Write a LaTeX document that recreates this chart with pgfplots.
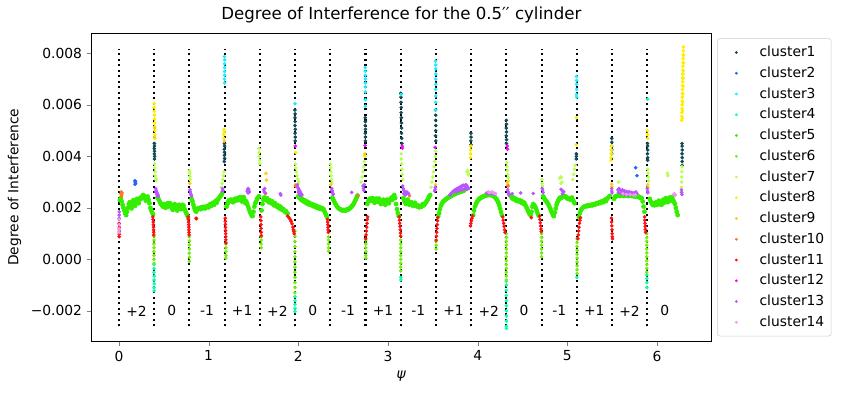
\documentclass[border=0pt]{standalone}
\usepackage{pgfplots}
\pgfplotsset{compat=1.18}
\usepackage{fontspec}
\setmainfont{DejaVu Sans}

\definecolor{c1}{HTML}{134B55}
\definecolor{c2}{HTML}{1F66FF}
\definecolor{c3}{HTML}{22EEFF}
\definecolor{c4}{HTML}{11FFAA}
\definecolor{c5}{HTML}{33EE00}
\definecolor{c6}{HTML}{77EE11}
\definecolor{c7}{HTML}{BBFF55}
\definecolor{c8}{HTML}{FFEE00}
\definecolor{c9}{HTML}{FFCC11}
\definecolor{c10}{HTML}{FF7722}
\definecolor{c11}{HTML}{FF1111}
\definecolor{c12}{HTML}{EE11EE}
\definecolor{c13}{HTML}{BB55FF}
\definecolor{c14}{HTML}{EE99EE}

\begin{document}
\begin{tikzpicture}
\path[use as bounding box] (-0.917in,-0.54in) rectangle (7.503in,3.410in);
\begin{axis}[
    scale only axis,
    width=6.193in, height=3.077in,
    xmin=-0.304, xmax=6.602,
    ymin=-0.00317, ymax=0.00878,
    xtick={0,1,2,3,4,5,6},
    xticklabels={0,1,2,3,4,5,6},
    ytick={-0.002,0,0.002,0.004,0.006,0.008},
    yticklabels={−0.002,0.000,0.002,0.004,0.006,0.008},
    scaled y ticks=false,
    tick align=outside,
    xtick pos=bottom, ytick pos=left,
    major tick length=3.5pt,
    tick label style={font=\fontsize{10}{12}\selectfont},
    label style={font=\fontsize{10}{12}\selectfont},
    title={Degree of Interference for the 0.5′′ cylinder},
    title style={font=\fontsize{12}{14}\selectfont, yshift=-2pt},
    xlabel={\textit{ψ}},
    ylabel={Degree of Interference},
    legend style={at={(1,1)}, anchor=north west, xshift=0.06in, yshift=-0.05in,
        draw=black!20, rounded corners=2pt, font=\fontsize{10}{12}\selectfont,
        row sep=1.9pt, inner ysep=3.5pt},
    legend cell align=left,
    legend image code/.code={%
        \path[draw=none, fill=none] (0cm,-0.1cm) rectangle (0.9cm,0.1cm);
        \draw[#1, mark size=0.8pt] plot coordinates {(0.38cm,0cm)};},
]
\addplot[only marks, mark=*, mark size=1.1pt, c1] coordinates {
(0.395,0.00450)(0.396,0.00440)(0.394,0.00430)(0.397,0.00420)(0.395,0.00410)(0.398,0.00400)(0.396,0.00390)
(1.176,0.00450)(1.178,0.00440)(1.175,0.00428)(1.177,0.00416)(1.176,0.00404)(1.178,0.00392)(1.175,0.00380)
(1.962,0.00580)(1.964,0.00565)(1.963,0.00550)(1.965,0.00535)(1.963,0.00520)(1.966,0.00505)(1.964,0.00490)(1.966,0.00475)(1.965,0.00460)
(2.746,0.00550)(2.748,0.00535)(2.747,0.00520)(2.749,0.00505)(2.747,0.00490)(2.749,0.00475)(2.748,0.00460)
(3.143,0.00645)(3.145,0.00630)(3.146,0.00610)(3.148,0.00590)(3.147,0.00570)(3.149,0.00550)(3.150,0.00530)(3.152,0.00510)(3.151,0.00490)(3.153,0.00470)(3.155,0.00450)
(3.530,0.00580)(3.532,0.00560)(3.531,0.00540)(3.533,0.00520)(3.532,0.00500)(3.531,0.00480)(3.533,0.00460)
(3.925,0.00490)(3.926,0.00475)(3.924,0.00460)(3.926,0.00445)
(4.320,0.00540)(4.321,0.00525)(4.319,0.00510)(4.322,0.00495)(4.320,0.00480)(4.322,0.00465)(4.321,0.00450)
(5.100,0.00410)(5.101,0.00400)(5.099,0.00390)
(5.495,0.00470)(5.496,0.00455)(5.494,0.00440)(5.496,0.00425)(5.495,0.00410)
(5.894,0.00450)(5.895,0.00440)(5.896,0.00425)(5.894,0.00410)(5.896,0.00395)(5.895,0.00385)
(6.279,0.00450)(6.280,0.00440)(6.281,0.00425)(6.279,0.00410)(6.281,0.00395)(6.280,0.00380)(6.281,0.00365)
};
\addlegendentry{cluster1}
\addplot[only marks, mark=*, mark size=1.1pt, c2] coordinates {
(0.178,0.00305)(0.182,0.00300)(0.186,0.00295)(0.180,0.00292)(0.184,0.00303)
(5.762,0.00356)(5.777,0.00325)
};
\addlegendentry{cluster2}
\addplot[only marks, mark=*, mark size=1.1pt, c3] coordinates {
(1.176,0.00787)(1.178,0.00775)(1.177,0.00760)(1.179,0.00745)(1.177,0.00730)(1.178,0.00715)(1.176,0.00700)(1.178,0.00685)
(1.963,0.00605)
(2.746,0.00745)(2.748,0.00730)(2.747,0.00715)(2.749,0.00700)(2.747,0.00685)(2.748,0.00670)(2.746,0.00650)(2.748,0.00620)(2.747,0.00595)
(3.531,0.00770)(3.533,0.00755)(3.532,0.00740)(3.534,0.00720)(3.532,0.00700)(3.533,0.00680)(3.531,0.00660)(3.533,0.00635)(3.532,0.00610)(3.533,0.00580)
(5.101,0.00710)(5.103,0.00695)(5.102,0.00680)(5.104,0.00660)(5.102,0.00640)(5.103,0.00630)
(3.144,0.00640)
};
\addlegendentry{cluster3}
\addplot[only marks, mark=*, mark size=1.1pt, c4] coordinates {
(0.391,-0.00020)(0.392,-0.00035)(0.391,-0.00050)(0.393,-0.00065)(0.392,-0.00080)(0.393,-0.00095)(0.392,-0.00110)(0.393,-0.00122)
(1.963,-0.00145)(1.964,-0.00160)(1.963,-0.00175)(1.964,-0.00190)(1.963,-0.00203)
(3.142,-0.00070)(3.143,-0.00080)
(4.319,-0.00085)(4.320,-0.00100)(4.319,-0.00120)(4.320,-0.00140)(4.321,-0.00160)(4.320,-0.00180)(4.321,-0.00200)(4.320,-0.00220)(4.321,-0.00240)(4.320,-0.00260)(4.321,-0.00268)
(5.106,-0.00070)
(5.886,-0.00060)(5.887,-0.00075)(5.886,-0.00090)(5.887,-0.00110)
(5.895,0.00622)
};
\addlegendentry{cluster4}
\addplot[only marks, mark=*, mark size=1.5pt, c5] coordinates {
(0.01,0.00230)(0.02,0.00238)(0.03,0.00225)(0.04,0.00212)(0.05,0.00200)(0.06,0.00190)(0.07,0.00178)(0.08,0.00172)(0.09,0.00185)(0.10,0.00200)
(0.11,0.00215)(0.12,0.00222)(0.13,0.00205)(0.14,0.00198)(0.15,0.00220)(0.16,0.00230)(0.17,0.00215)(0.18,0.00208)(0.19,0.00225)(0.20,0.00235)
(0.21,0.00228)(0.22,0.00218)(0.23,0.00232)(0.24,0.00240)(0.25,0.00236)(0.26,0.00245)(0.27,0.00250)(0.28,0.00246)(0.29,0.00238)(0.30,0.00228)
(0.31,0.00238)(0.32,0.00244)(0.33,0.00232)(0.34,0.00218)(0.35,0.00200)(0.36,0.00190)(0.37,0.00182)(0.38,0.00175)
(0.43,0.00240)(0.44,0.00235)(0.45,0.00228)(0.46,0.00220)(0.47,0.00215)(0.48,0.00210)(0.49,0.00205)(0.50,0.00215)(0.51,0.00208)(0.52,0.00200)
(0.53,0.00212)(0.54,0.00218)(0.55,0.00205)(0.56,0.00210)(0.57,0.00218)(0.58,0.00212)(0.59,0.00200)(0.60,0.00192)(0.61,0.00205)(0.62,0.00215)
(0.63,0.00210)(0.64,0.00198)(0.65,0.00190)(0.66,0.00205)(0.67,0.00212)(0.68,0.00200)(0.69,0.00195)(0.70,0.00205)(0.71,0.00212)(0.72,0.00208)
(0.73,0.00196)(0.74,0.00188)(0.75,0.00180)(0.76,0.00172)(0.77,0.00165)
(0.81,0.00235)(0.82,0.00225)(0.83,0.00212)(0.84,0.00200)(0.85,0.00190)(0.86,0.00185)(0.87,0.00192)(0.88,0.00198)(0.89,0.00196)(0.90,0.00200)
(0.91,0.00195)(0.92,0.00202)(0.93,0.00198)(0.94,0.00204)(0.95,0.00200)(0.96,0.00198)(0.97,0.00205)(0.98,0.00203)(0.99,0.00208)(1.00,0.00202)
(1.01,0.00210)(1.02,0.00215)(1.03,0.00208)(1.04,0.00214)(1.05,0.00220)(1.06,0.00212)(1.07,0.00222)(1.08,0.00228)(1.09,0.00220)(1.10,0.00230)
(1.11,0.00236)(1.12,0.00240)(1.13,0.00245)(1.14,0.00250)(1.15,0.00255)
(1.20,0.00205)(1.21,0.00215)(1.22,0.00225)(1.23,0.00230)(1.24,0.00226)(1.25,0.00232)(1.26,0.00228)(1.27,0.00222)(1.28,0.00230)(1.29,0.00235)
(1.30,0.00228)(1.31,0.00232)(1.32,0.00238)(1.33,0.00230)(1.34,0.00236)(1.35,0.00242)(1.36,0.00232)(1.37,0.00225)(1.38,0.00238)(1.39,0.00242)
(1.40,0.00230)(1.41,0.00218)(1.42,0.00225)(1.43,0.00215)(1.44,0.00205)(1.45,0.00195)(1.46,0.00185)(1.47,0.00178)(1.48,0.00170)(1.49,0.00168)
(1.50,0.00185)(1.51,0.00205)(1.52,0.00218)(1.53,0.00225)(1.54,0.00235)(1.55,0.00240)(1.56,0.00245)
(1.59,0.00190)(1.60,0.00215)(1.61,0.00232)(1.62,0.00240)(1.63,0.00236)(1.64,0.00230)(1.65,0.00238)(1.66,0.00228)(1.67,0.00222)(1.68,0.00230)
(1.69,0.00226)(1.70,0.00218)(1.71,0.00225)(1.72,0.00215)(1.73,0.00210)(1.74,0.00218)(1.75,0.00212)(1.76,0.00205)(1.77,0.00210)(1.78,0.00202)
(1.79,0.00198)(1.80,0.00205)(1.81,0.00198)(1.82,0.00192)(1.83,0.00196)(1.84,0.00190)(1.85,0.00185)(1.86,0.00188)(1.87,0.00180)(1.88,0.00178)
(2.00,0.00245)(2.01,0.00240)(2.02,0.00238)(2.03,0.00232)(2.04,0.00236)(2.05,0.00228)(2.06,0.00225)(2.07,0.00230)(2.08,0.00222)(2.09,0.00218)
(2.10,0.00224)(2.11,0.00215)(2.12,0.00220)(2.13,0.00212)(2.14,0.00216)(2.15,0.00210)(2.16,0.00214)(2.17,0.00206)(2.18,0.00210)(2.19,0.00204)
(2.20,0.00208)(2.21,0.00200)(2.22,0.00205)(2.23,0.00198)(2.24,0.00202)(2.25,0.00196)(2.26,0.00200)(2.27,0.00194)(2.28,0.00196)(2.29,0.00188)
(2.30,0.00180)(2.31,0.00172)(2.32,0.00165)
(2.38,0.00240)(2.39,0.00232)(2.40,0.00225)(2.41,0.00218)(2.42,0.00212)(2.43,0.00206)(2.44,0.00202)(2.45,0.00198)(2.46,0.00196)(2.47,0.00194)
(2.48,0.00192)(2.49,0.00190)(2.50,0.00192)(2.51,0.00190)(2.52,0.00192)(2.53,0.00190)(2.54,0.00193)(2.55,0.00195)(2.56,0.00194)(2.57,0.00197)
(2.58,0.00200)(2.59,0.00203)(2.60,0.00208)(2.61,0.00212)(2.62,0.00218)(2.63,0.00225)(2.64,0.00232)(2.65,0.00240)(2.66,0.00248)
(2.77,0.00215)(2.78,0.00225)(2.79,0.00232)(2.80,0.00236)(2.81,0.00228)(2.82,0.00232)(2.83,0.00238)(2.84,0.00226)(2.85,0.00220)(2.86,0.00232)
(2.87,0.00236)(2.88,0.00224)(2.89,0.00230)(2.90,0.00236)(2.91,0.00222)(2.92,0.00215)(2.93,0.00228)(2.94,0.00220)(2.95,0.00232)(2.96,0.00226)
(2.97,0.00212)(2.98,0.00222)(2.99,0.00232)(3.00,0.00226)(3.01,0.00218)(3.02,0.00228)(3.03,0.00236)(3.04,0.00240)(3.05,0.00232)(3.06,0.00245)
(3.07,0.00250)(3.08,0.00238)(3.09,0.00215)(3.10,0.00195)(3.11,0.00180)(3.12,0.00168)
(3.17,0.00238)(3.18,0.00230)(3.19,0.00222)(3.20,0.00215)(3.21,0.00225)(3.22,0.00232)(3.23,0.00222)(3.24,0.00212)(3.25,0.00218)(3.26,0.00222)
(3.27,0.00215)(3.28,0.00208)(3.29,0.00214)(3.30,0.00220)(3.31,0.00212)(3.32,0.00206)(3.33,0.00210)(3.34,0.00205)(3.35,0.00202)(3.36,0.00208)
(3.37,0.00204)(3.38,0.00210)(3.39,0.00215)(3.40,0.00210)(3.41,0.00215)(3.42,0.00220)(3.43,0.00225)(3.44,0.00230)(3.45,0.00238)(3.46,0.00245)
(3.47,0.00250)
(3.56,0.00168)(3.57,0.00180)(3.58,0.00195)(3.59,0.00208)(3.60,0.00216)(3.61,0.00222)(3.62,0.00226)(3.63,0.00229)(3.64,0.00232)(3.65,0.00235)
(3.66,0.00237)(3.67,0.00240)(3.68,0.00242)(3.69,0.00243)(3.70,0.00246)(3.71,0.00248)(3.72,0.00250)(3.73,0.00251)(3.74,0.00253)(3.75,0.00255)
(3.76,0.00256)(3.77,0.00258)(3.78,0.00259)(3.79,0.00260)(3.80,0.00262)(3.81,0.00263)(3.82,0.00264)(3.83,0.00265)(3.84,0.00266)(3.85,0.00268)
(3.95,0.00172)(3.96,0.00190)(3.97,0.00205)(3.98,0.00215)(3.99,0.00222)(4.00,0.00228)(4.01,0.00232)(4.02,0.00236)(4.03,0.00238)(4.04,0.00240)
(4.05,0.00242)(4.06,0.00244)(4.07,0.00245)(4.08,0.00247)(4.09,0.00248)(4.10,0.00249)(4.11,0.00250)(4.12,0.00250)(4.13,0.00251)(4.14,0.00250)
(4.15,0.00250)(4.16,0.00249)(4.17,0.00247)(4.18,0.00245)(4.19,0.00242)(4.20,0.00238)(4.21,0.00234)(4.22,0.00228)(4.23,0.00220)(4.24,0.00210)
(4.25,0.00198)(4.26,0.00185)(4.27,0.00172)
(4.36,0.00250)(4.37,0.00245)(4.38,0.00240)(4.39,0.00236)(4.40,0.00240)(4.41,0.00232)(4.42,0.00236)(4.43,0.00228)(4.44,0.00232)(4.45,0.00226)
(4.46,0.00230)(4.47,0.00224)(4.48,0.00228)(4.49,0.00220)(4.50,0.00224)(4.51,0.00216)(4.52,0.00220)(4.53,0.00212)(4.54,0.00205)(4.55,0.00198)
(4.56,0.00190)(4.57,0.00182)(4.58,0.00175)(4.59,0.00172)(4.60,0.00185)(4.61,0.00205)(4.62,0.00215)(4.63,0.00210)(4.64,0.00205)(4.65,0.00198)
(4.66,0.00188)(4.67,0.00178)(4.68,0.00170)
(4.73,0.00245)(4.74,0.00238)(4.75,0.00232)(4.76,0.00228)(4.77,0.00224)(4.78,0.00218)(4.79,0.00212)(4.80,0.00205)(4.81,0.00196)(4.82,0.00188)
(4.83,0.00180)(4.84,0.00172)(4.85,0.00168)(4.86,0.00182)(4.87,0.00198)(4.88,0.00212)(4.89,0.00222)(4.90,0.00230)(4.91,0.00236)(4.92,0.00240)
(4.93,0.00238)(4.94,0.00242)(4.95,0.00245)(4.96,0.00243)(4.97,0.00246)(4.98,0.00244)(4.99,0.00240)(5.00,0.00236)(5.01,0.00238)(5.02,0.00235)
(5.03,0.00232)(5.04,0.00236)(5.05,0.00240)(5.06,0.00232)(5.07,0.00225)(5.08,0.00218)
(5.13,0.00165)(5.14,0.00180)(5.15,0.00190)(5.16,0.00196)(5.17,0.00200)(5.18,0.00203)(5.19,0.00205)(5.20,0.00207)(5.21,0.00208)(5.22,0.00206)
(5.23,0.00209)(5.24,0.00210)(5.25,0.00208)(5.26,0.00211)(5.27,0.00212)(5.28,0.00210)(5.29,0.00213)(5.30,0.00215)(5.31,0.00213)(5.32,0.00216)
(5.33,0.00218)(5.34,0.00216)(5.35,0.00220)(5.36,0.00222)(5.37,0.00219)(5.38,0.00224)(5.39,0.00226)(5.40,0.00222)(5.41,0.00228)(5.42,0.00232)
(5.43,0.00226)(5.44,0.00234)(5.45,0.00238)(5.46,0.00242)(5.47,0.00246)
(5.52,0.00235)(5.53,0.00242)(5.54,0.00245)(5.55,0.00246)(5.56,0.00247)(5.57,0.00248)(5.58,0.00246)(5.59,0.00249)(5.60,0.00247)(5.61,0.00250)
(5.62,0.00248)(5.63,0.00246)(5.64,0.00249)(5.65,0.00247)(5.66,0.00250)(5.67,0.00248)(5.68,0.00246)(5.69,0.00249)(5.70,0.00247)(5.71,0.00248)
(5.72,0.00246)(5.73,0.00248)(5.74,0.00245)(5.75,0.00247)(5.76,0.00244)(5.77,0.00246)(5.78,0.00243)(5.79,0.00245)(5.80,0.00242)(5.81,0.00240)
(5.82,0.00238)(5.83,0.00238)(5.84,0.00225)(5.85,0.00205)(5.86,0.00185)
(5.92,0.00235)(5.93,0.00225)(5.94,0.00218)(5.95,0.00212)(5.96,0.00218)(5.97,0.00210)(5.98,0.00215)(5.99,0.00222)(6.00,0.00212)(6.01,0.00218)
(6.02,0.00228)(6.03,0.00215)(6.04,0.00222)(6.05,0.00212)(6.06,0.00225)(6.07,0.00232)(6.08,0.00220)(6.09,0.00228)(6.10,0.00238)(6.11,0.00230)
(6.12,0.00222)(6.13,0.00232)(6.14,0.00240)(6.15,0.00228)(6.16,0.00235)(6.17,0.00242)(6.18,0.00230)(6.19,0.00222)(6.20,0.00215)(6.21,0.00200)
(6.22,0.00185)(6.23,0.00172)
};
\addlegendentry{cluster5}
\addplot[only marks, mark=*, mark size=1.1pt, c6] coordinates {
(0.390,0.00090)(0.391,0.00075)(0.390,0.00060)(0.391,0.00045)(0.390,0.00030)(0.391,0.00015)(0.390,0.00000)(0.391,-0.00015)
(0.785,0.00088)(0.786,0.00072)(0.785,0.00056)(0.786,0.00040)(0.785,0.00024)(0.786,0.00008)(0.785,-0.00008)
(1.192,0.00060)(1.193,0.00045)(1.192,0.00030)(1.193,0.00015)(1.192,0.00005)
(1.586,0.00088)(1.587,0.00075)(1.586,0.00060)(1.587,0.00045)
(1.962,0.00110)(1.963,0.00090)(1.962,0.00070)(1.963,0.00050)(1.962,0.00030)(1.963,0.00010)(1.962,-0.00010)(1.963,-0.00030)(1.962,-0.00050)(1.963,-0.00070)(1.962,-0.00090)(1.963,-0.00110)(1.962,-0.00130)
(2.336,0.00088)(2.337,0.00075)(2.336,0.00060)(2.337,0.00045)(2.336,0.00032)
(2.752,0.00075)(2.753,0.00060)(2.752,0.00045)(2.753,0.00030)(2.752,0.00015)(2.753,0.00005)
(3.141,0.00075)(3.142,0.00060)(3.141,0.00045)(3.142,0.00030)(3.141,0.00015)(3.142,0.00000)(3.141,-0.00015)(3.142,-0.00030)(3.141,-0.00045)
(3.537,0.00070)(3.538,0.00055)(3.537,0.00040)
(4.319,0.00100)(4.320,0.00085)(4.319,0.00070)(4.320,0.00055)(4.319,0.00040)(4.320,0.00025)(4.319,0.00010)(4.320,-0.00005)(4.319,-0.00020)(4.320,-0.00035)(4.319,-0.00050)(4.320,-0.00065)(4.319,-0.00080)
(4.712,0.00100)(4.713,0.00085)(4.712,0.00070)(4.713,0.00055)(4.712,0.00040)(4.713,0.00025)(4.712,0.00010)
(5.108,0.00080)(5.109,0.00065)(5.108,0.00050)(5.109,0.00035)(5.108,0.00020)(5.109,0.00005)(5.108,-0.00010)(5.109,-0.00025)(5.108,-0.00040)(5.109,-0.00055)
(5.885,0.00100)(5.886,0.00085)(5.885,0.00070)(5.886,0.00055)(5.885,0.00040)(5.886,0.00025)(5.885,0.00010)(5.886,-0.00005)(5.885,-0.00020)(5.886,-0.00035)(5.885,-0.00050)
};
\addlegendentry{cluster6}
\addplot[only marks, mark=*, mark size=1.1pt, c7] coordinates {
(0.398,0.00370)(0.400,0.00355)(0.402,0.00340)(0.405,0.00325)(0.410,0.00315)(0.415,0.00308)
(0.787,0.00345)(0.789,0.00335)(0.791,0.00322)(0.793,0.00310)
(1.140,0.00280)(1.150,0.00295)(1.158,0.00310)(1.165,0.00325)(1.170,0.00340)
(1.562,0.00430)(1.564,0.00415)(1.566,0.00400)(1.568,0.00385)(1.570,0.00372)
(1.968,0.00370)(1.972,0.00355)(1.978,0.00340)(1.985,0.00325)(1.995,0.00312)(2.005,0.00300)
(2.358,0.00370)(2.360,0.00355)(2.363,0.00340)(2.366,0.00325)(2.370,0.00310)(2.375,0.00298)
(2.700,0.00300)(2.712,0.00320)(2.722,0.00340)(2.730,0.00360)(2.736,0.00380)(2.742,0.00400)
(3.148,0.00410)(3.150,0.00390)(3.153,0.00370)(3.157,0.00350)(3.160,0.00330)(3.165,0.00310)
(3.480,0.00280)(3.490,0.00300)(3.500,0.00320)(3.508,0.00340)(3.515,0.00360)(3.522,0.00380)(3.528,0.00400)(3.531,0.00420)
(3.880,0.00340)(3.890,0.00345)(3.900,0.00335)(3.895,0.00328)
(4.325,0.00375)(4.328,0.00360)(4.332,0.00345)(4.336,0.00330)(4.340,0.00318)(4.345,0.00305)
(4.715,0.00310)(4.718,0.00295)(4.722,0.00285)
(4.915,0.00315)(4.925,0.00320)(4.935,0.00318)(4.940,0.00300)(4.930,0.00295)
(5.060,0.00310)(5.070,0.00330)(5.080,0.00350)(5.088,0.00365)
(5.570,0.00300)
(5.898,0.00350)(5.900,0.00335)(5.902,0.00320)(5.905,0.00305)
(6.115,0.00335)(6.120,0.00325)
(6.270,0.00260)(6.272,0.00280)(6.274,0.00300)(6.276,0.00320)(6.278,0.00340)(6.280,0.00360)
};
\addlegendentry{cluster7}
\addplot[only marks, mark=*, mark size=1.1pt, c8] coordinates {
(0.393,0.00605)(0.394,0.00590)(0.395,0.00575)(0.396,0.00560)(0.397,0.00545)(0.398,0.00530)(0.399,0.00515)(0.400,0.00500)(0.401,0.00485)(0.402,0.00470)
(1.172,0.00505)(1.174,0.00495)(1.168,0.00485)(1.170,0.00470)
(1.970,0.00415)(2.740,0.00405)
(3.925,0.00440)(3.923,0.00425)(3.921,0.00410)(3.919,0.00395)
(5.100,0.00550)(5.098,0.00445)
(5.494,0.00440)(5.492,0.00425)(5.490,0.00410)(5.488,0.00395)(5.486,0.00385)
(5.892,0.00500)(5.894,0.00485)(5.896,0.00470)
(6.275,0.00540)(6.276,0.00555)(6.278,0.00570)(6.279,0.00585)(6.280,0.00600)(6.281,0.00615)(6.282,0.00630)(6.283,0.00645)(6.284,0.00660)(6.285,0.00675)
(6.286,0.00690)(6.287,0.00705)(6.288,0.00720)(6.288,0.00735)(6.289,0.00750)(6.290,0.00765)(6.291,0.00780)(6.292,0.00795)(6.293,0.00810)(6.294,0.00825)
(6.281,0.00548)(6.284,0.00578)(6.286,0.00610)(6.288,0.00642)(6.290,0.00672)(6.292,0.00702)(6.293,0.00732)(6.295,0.00762)(6.296,0.00792)
};
\addlegendentry{cluster8}
\addplot[only marks, mark=*, mark size=1.1pt, c9] coordinates {
(0.396,0.00475)(0.398,0.00510)(0.790,0.00295)(1.640,0.00334)(1.645,0.00308)(1.965,0.00290)(2.362,0.00290)(2.742,0.00410)
(3.530,0.00290)(4.330,0.00300)(4.335,0.00290)(5.494,0.00292)(5.496,0.00282)(5.895,0.00290)(5.898,0.00280)(1.175,0.00460)
};
\addlegendentry{cluster9}
\addplot[only marks, mark=*, mark size=1.1pt, c10] coordinates {
(0.020,0.00255)(0.025,0.00262)(0.030,0.00250)(0.035,0.00258)(0.028,0.00245)(1.635,0.00255)(2.665,0.00247)(3.240,0.00247)(4.340,0.00285)(1.968,0.00285)
};
\addlegendentry{cluster10}
\addplot[only marks, mark=*, mark size=1.1pt, c11] coordinates {
(0.002,0.00140)(0.003,0.00125)(0.004,0.00110)(0.003,0.00098)(0.002,0.00088)
(0.378,0.00165)(0.380,0.00155)(0.382,0.00145)(0.384,0.00135)(0.385,0.00125)(0.386,0.00115)(0.387,0.00105)(0.388,0.00095)
(0.772,0.00165)(0.774,0.00155)(0.776,0.00145)(0.778,0.00135)(0.779,0.00125)(0.780,0.00115)(0.781,0.00105)(0.782,0.00095)(0.860,0.00160)(0.865,0.00158)
(1.185,0.00160)(1.186,0.00148)(1.187,0.00136)(1.188,0.00124)(1.189,0.00112)(1.190,0.00100)(1.191,0.00088)(1.192,0.00076)(1.193,0.00064)
(1.582,0.00165)(1.583,0.00150)(1.584,0.00135)(1.585,0.00120)(1.586,0.00105)(1.587,0.00092)
(1.880,0.00168)(1.890,0.00165)(1.900,0.00160)(1.910,0.00155)(1.920,0.00148)(1.930,0.00138)(1.940,0.00125)(1.945,0.00115)(1.950,0.00108)(1.955,0.00100)
(2.325,0.00155)(2.327,0.00145)(2.329,0.00135)(2.331,0.00125)(2.333,0.00115)(2.335,0.00105)
(2.752,0.00080)(2.755,0.00095)(2.758,0.00110)(2.762,0.00125)(2.766,0.00140)(2.770,0.00155)(2.774,0.00165)
(3.125,0.00165)(3.128,0.00152)(3.131,0.00140)(3.134,0.00128)(3.137,0.00115)(3.139,0.00102)(3.141,0.00090)
(3.537,0.00075)(3.540,0.00090)(3.543,0.00105)(3.546,0.00120)(3.549,0.00135)(3.552,0.00150)(3.555,0.00162)
(3.920,0.00130)(3.924,0.00140)(3.930,0.00150)(3.936,0.00160)(3.942,0.00168)
(4.280,0.00165)(4.285,0.00152)(4.290,0.00140)(4.295,0.00128)(4.300,0.00115)(4.305,0.00105)
(4.598,0.00162)
(4.690,0.00168)(4.694,0.00155)(4.698,0.00142)(4.702,0.00130)(4.706,0.00118)(4.710,0.00108)
(5.118,0.00080)(5.122,0.00095)(5.126,0.00110)(5.130,0.00125)(5.135,0.00140)(5.140,0.00152)(5.146,0.00162)
(5.492,0.00160)(5.494,0.00145)(5.496,0.00130)(5.498,0.00115)(5.500,0.00100)(5.502,0.00088)(5.504,0.00080)
(5.862,0.00165)(5.864,0.00152)(5.866,0.00140)(5.868,0.00128)(5.870,0.00116)(5.872,0.00105)
};
\addlegendentry{cluster11}
\addplot[only marks, mark=*, mark size=1.1pt, c12] coordinates {
(1.966,0.00440)(2.745,0.00442)(3.158,0.00440)(3.160,0.00432)(3.526,0.00435)(4.330,0.00440)(4.332,0.00428)
};
\addlegendentry{cluster12}
\addplot[only marks, mark=*, mark size=1.1pt, c13] coordinates {
(0.004,0.00185)(0.003,0.00172)(0.002,0.00160)
(0.410,0.00275)(0.415,0.00268)(0.420,0.00262)(0.425,0.00258)(0.430,0.00254)(0.435,0.00250)(0.440,0.00246)(0.412,0.00262)(0.422,0.00252)(0.432,0.00244)
(0.792,0.00270)(0.796,0.00262)(0.800,0.00255)(0.805,0.00250)(0.810,0.00246)
(1.150,0.00265)(1.155,0.00275)(1.160,0.00268)
(1.430,0.00265)(1.436,0.00272)(1.442,0.00275)(1.448,0.00270)(1.454,0.00262)(1.440,0.00258)
(1.615,0.00270)(1.620,0.00262)(1.625,0.00275)(1.630,0.00258)(1.800,0.00255)(1.805,0.00250)
(1.990,0.00290)(1.995,0.00280)(2.000,0.00275)(2.005,0.00270)(2.010,0.00268)(2.015,0.00265)(2.020,0.00262)(2.025,0.00258)(2.030,0.00255)(2.035,0.00252)(2.040,0.00250)(2.000,0.00262)(2.010,0.00256)(2.020,0.00250)
(2.372,0.00275)(2.376,0.00268)(2.380,0.00262)(2.385,0.00256)(2.390,0.00252)
(2.595,0.00260)
(2.722,0.00285)(2.727,0.00275)(2.732,0.00268)(2.736,0.00290)
(3.165,0.00285)(3.170,0.00275)(3.178,0.00268)(3.185,0.00262)(3.192,0.00258)(3.200,0.00255)(3.210,0.00262)(3.220,0.00258)(3.230,0.00255)(3.175,0.00255)(3.195,0.00250)
(3.520,0.00265)(3.525,0.00272)(3.528,0.00280)
(3.690,0.00250)(3.700,0.00255)(3.710,0.00258)(3.720,0.00262)(3.730,0.00265)(3.740,0.00268)(3.750,0.00270)(3.760,0.00272)(3.770,0.00274)(3.780,0.00276)
(3.790,0.00278)(3.800,0.00280)(3.810,0.00282)(3.820,0.00284)(3.830,0.00286)(3.840,0.00288)(3.850,0.00285)(3.860,0.00288)(3.870,0.00290)(3.880,0.00285)
(3.890,0.00280)(3.900,0.00275)(3.760,0.00262)(3.780,0.00265)(3.800,0.00268)(3.820,0.00270)(3.840,0.00272)(3.860,0.00275)(3.880,0.00272)
(4.100,0.00258)(4.110,0.00256)(4.130,0.00258)(4.150,0.00255)(4.170,0.00257)(4.190,0.00252)
(4.335,0.00270)(4.340,0.00262)(4.345,0.00255)(4.350,0.00250)(4.385,0.00255)(4.620,0.00256)(4.480,0.00258)
(4.720,0.00275)(4.725,0.00268)(4.730,0.00260)
(4.930,0.00272)(4.940,0.00268)(4.950,0.00265)(4.960,0.00262)(4.945,0.00255)
(5.494,0.00275)(5.496,0.00265)(5.498,0.00258)
(5.565,0.00270)(5.575,0.00275)(5.585,0.00272)(5.595,0.00268)(5.605,0.00265)(5.615,0.00270)(5.625,0.00262)(5.635,0.00266)(5.645,0.00260)(5.655,0.00264)
(5.665,0.00258)(5.675,0.00262)(5.685,0.00258)(5.695,0.00262)(5.705,0.00258)(5.715,0.00260)(5.725,0.00256)(5.735,0.00258)(5.745,0.00255)(5.755,0.00258)
(5.765,0.00262)(5.775,0.00256)(5.570,0.00260)(5.600,0.00255)(5.640,0.00252)(5.680,0.00250)
(5.892,0.00275)(5.895,0.00265)(5.898,0.00258)
(6.272,0.00270)(6.275,0.00260)(6.278,0.00252)
};
\addlegendentry{cluster13}
\addplot[only marks, mark=*, mark size=1.1pt, c14] coordinates {
(0.001,0.00155)(0.002,0.00135)(0.003,0.00120)(0.001,0.00105)(0.002,0.00115)
(4.120,0.00262)(4.140,0.00260)(4.160,0.00262)(4.180,0.00258)(4.200,0.00255)
(5.620,0.00255)(5.660,0.00252)(5.700,0.00252)(5.740,0.00250)(5.760,0.00250)
(6.185,0.00252)(6.195,0.00255)(6.205,0.00250)
};
\addlegendentry{cluster14}
% vertical dotted separators at k*pi/8
\pgfplotsinvokeforeach{0.0000,0.3927,0.7854,1.1781,1.5708,1.9635,2.3562,2.7489,3.1416,3.5343,3.9270,4.3197,4.7124,5.1051,5.4978,5.8905}{
  \addplot[black, line width=1.5pt, dash pattern=on 1.5pt off 2.5pt, forget plot] coordinates {(#1,-0.0026) (#1,0.00817)};
}
\node[font=\fontsize{10}{12}\selectfont] at (axis cs:0.196,-0.002) {+2};
\node[font=\fontsize{10}{12}\selectfont] at (axis cs:0.589,-0.002) {0};
\node[font=\fontsize{10}{12}\selectfont] at (axis cs:0.982,-0.002) {-1};
\node[font=\fontsize{10}{12}\selectfont] at (axis cs:1.374,-0.002) {+1};
\node[font=\fontsize{10}{12}\selectfont] at (axis cs:1.767,-0.002) {+2};
\node[font=\fontsize{10}{12}\selectfont] at (axis cs:2.160,-0.002) {0};
\node[font=\fontsize{10}{12}\selectfont] at (axis cs:2.553,-0.002) {-1};
\node[font=\fontsize{10}{12}\selectfont] at (axis cs:2.945,-0.002) {+1};
\node[font=\fontsize{10}{12}\selectfont] at (axis cs:3.338,-0.002) {-1};
\node[font=\fontsize{10}{12}\selectfont] at (axis cs:3.731,-0.002) {+1};
\node[font=\fontsize{10}{12}\selectfont] at (axis cs:4.123,-0.002) {+2};
\node[font=\fontsize{10}{12}\selectfont] at (axis cs:4.516,-0.002) {0};
\node[font=\fontsize{10}{12}\selectfont] at (axis cs:4.909,-0.002) {-1};
\node[font=\fontsize{10}{12}\selectfont] at (axis cs:5.301,-0.002) {+1};
\node[font=\fontsize{10}{12}\selectfont] at (axis cs:5.694,-0.002) {+2};
\node[font=\fontsize{10}{12}\selectfont] at (axis cs:6.087,-0.002) {0};
\end{axis}
\end{tikzpicture}
\end{document}
